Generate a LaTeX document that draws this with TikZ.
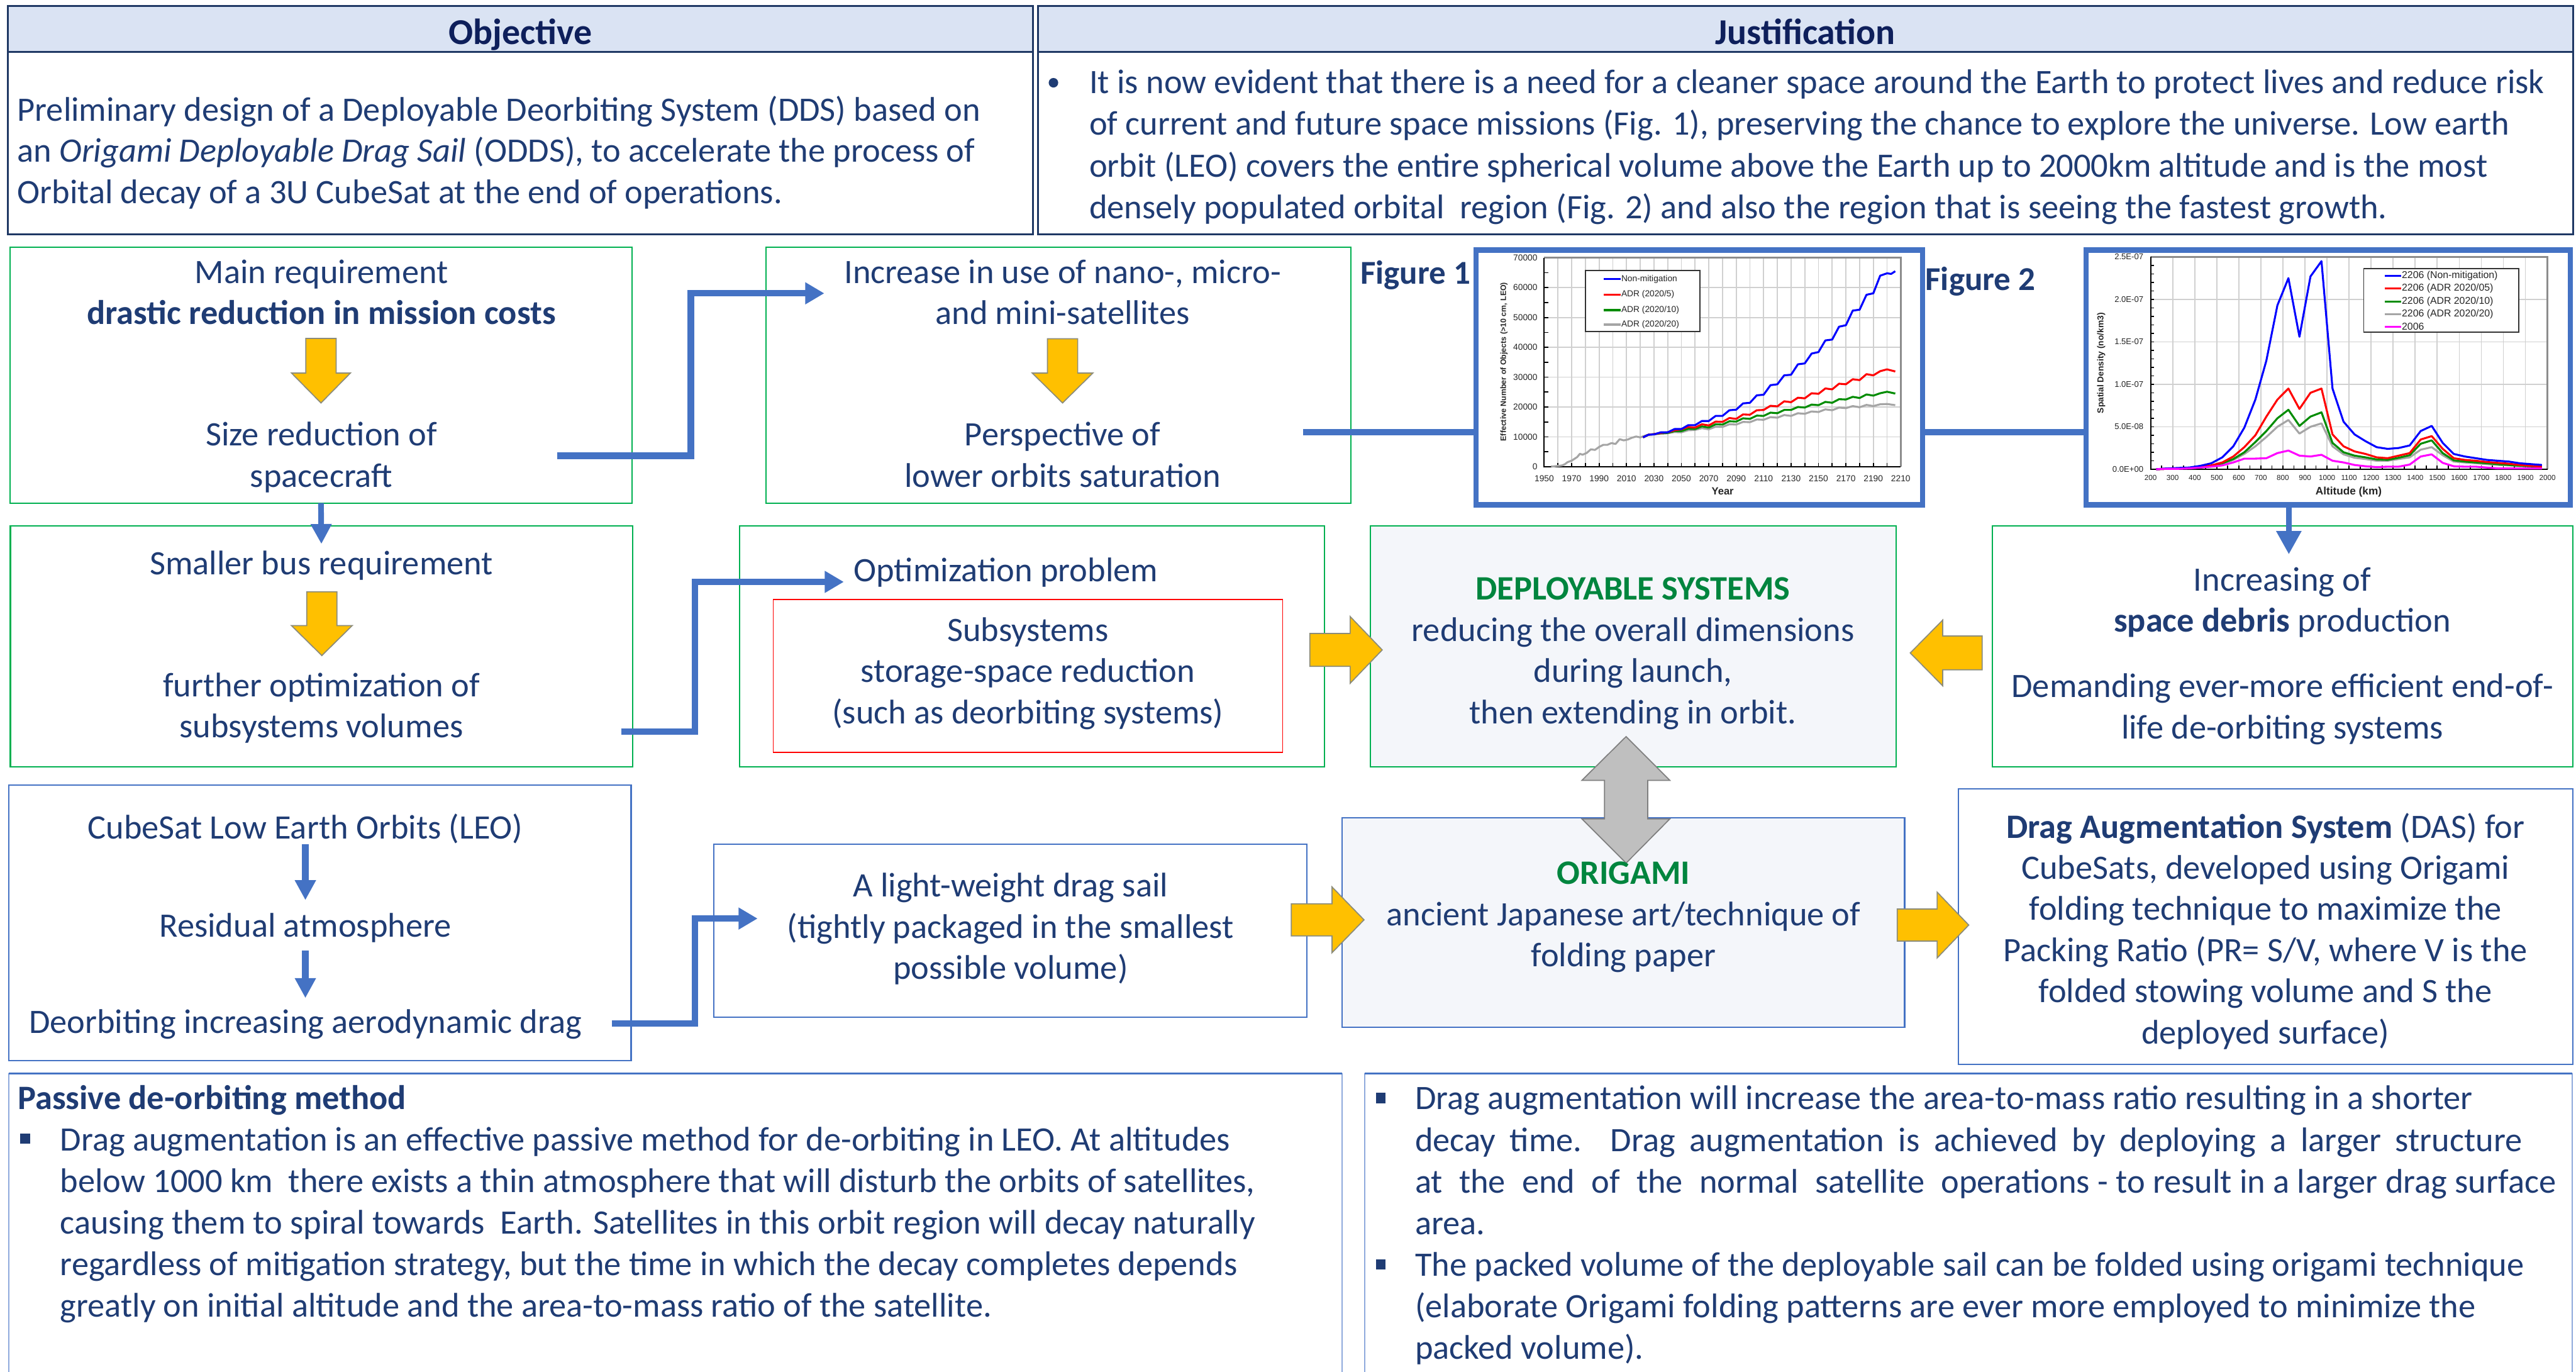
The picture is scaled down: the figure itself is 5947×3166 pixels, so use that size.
\documentclass[tikz,border=0pt]{standalone}
\usepackage{fontspec}
\setmainfont{Carlito}
\newfontfamily\chartfont{Liberation Sans}
\usetikzlibrary{arrows.meta}
\definecolor{navy}{HTML}{1F3C74}
\definecolor{hdrtext}{HTML}{0E1F5B}
\definecolor{hdrline}{HTML}{1F3864}
\definecolor{hdrfill}{HTML}{DAE3F3}
\definecolor{mgreen}{HTML}{00B050}
\definecolor{dgreen}{HTML}{00853E}
\definecolor{mblue}{HTML}{4472C4}
\definecolor{lblue}{HTML}{8FAADC}
\definecolor{myellow}{HTML}{FFC000}
\definecolor{yedge}{HTML}{8C8C7A}
\definecolor{garrfill}{HTML}{BFBFBF}
\definecolor{garredge}{HTML}{7F7F7F}
\definecolor{lfill}{HTML}{F4F6FA}
\definecolor{redbox}{HTML}{FF0000}
\definecolor{gridcol}{HTML}{D0D0D0}
\definecolor{cblue}{RGB}{0,0,255}
\definecolor{cred}{RGB}{255,0,0}
\definecolor{cgreen}{RGB}{0,140,0}
\definecolor{cgray}{RGB}{165,165,165}
\definecolor{cmag}{RGB}{255,0,255}
\newcommand\mtxt{\fontsize{79}{95}\selectfont}
\newcommand\ptxt{\fontsize{79}{96}\selectfont}
\newcommand\ctab[1]{\begin{tabular}[t]{@{}c@{}}#1\end{tabular}}
\newcommand\ltab[1]{\begin{tabular}[t]{@{}l@{}}#1\end{tabular}}
\newcommand\yarrv[6]{\draw[yarr] ({#1-#3},#2) -- ({#1+#3},#2) -- ({#1+#3},#4) -- ({#1+#5},#4) -- (#1,#6) -- ({#1-#5},#4) -- ({#1-#3},#4) -- cycle;}
\newcommand\yarrh[6]{\draw[yarr] (#2,{#1-#3}) -- (#4,{#1-#3}) -- (#4,{#1-#5}) -- (#6,#1) -- (#4,{#1+#5}) -- (#4,{#1+#3}) -- (#2,{#1+#3}) -- cycle;}
\begin{document}
\begin{tikzpicture}[x=1pt,y=-1pt,
  every node/.style={inner sep=0pt,outer sep=0pt},
  gbox/.style={draw=mgreen,line width=3pt,anchor=north west},
  bbox/.style={draw=mblue,line width=3pt,anchor=north west},
  txt/.style={font=\mtxt,text=navy,anchor=base},
  ptx/.style={font=\ptxt,text=navy,anchor=base west},
  conn/.style={draw=mblue,line width=15pt,line join=miter,-{Triangle[width=48pt,length=44pt]}},
  yarr/.style={fill=myellow,draw=yedge,line width=2.5pt,line join=miter},
  garr/.style={fill=garrfill,draw=garredge,line width=2.5pt,line join=miter},
  figframe/.style={draw=mblue,line width=12pt,fill=white,anchor=north west},
  gline/.style={draw=gridcol,line width=2.5pt},
  tickA/.style={font=\chartfont\fontsize{20}{23}\selectfont,text=black!85},
  tickB/.style={font=\chartfont\fontsize{17}{20}\selectfont,text=black!85},
  tickC/.style={font=\chartfont\fontsize{19}{22}\selectfont,text=black!85},
  legA/.style={font=\chartfont\fontsize{20}{23}\selectfont,text=black!85,anchor=west},
  legB/.style={font=\chartfont\fontsize{23}{26}\selectfont,text=black!85,anchor=west},
  curve/.style={line width=4.5pt,line join=round}]
\useasboundingbox (0,0) rectangle (5947,3166);
\fill[white] (0,0) rectangle (5947,3166);

% ---------- header boxes
\node[draw=hdrline,line width=4pt,fill=white,anchor=north west,minimum width=2367pt,minimum height=527pt] (objbox) at (18,14) {};
\node[draw=hdrline,line width=4pt,fill=hdrfill,anchor=north west,minimum width=2367pt,minimum height=106pt] (objhdr) at (18,14) {};
\node[draw=hdrline,line width=4pt,fill=white,anchor=north west,minimum width=3544pt,minimum height=527pt] (jusbox) at (2396,14) {};
\node[draw=hdrline,line width=4pt,fill=hdrfill,anchor=north west,minimum width=3544pt,minimum height=106pt] (jushdr) at (2396,14) {};
\node[font=\fontsize{84}{100}\selectfont\bfseries,text=hdrtext,anchor=base] (objT) at (1201,103) {Objective};
\node[font=\fontsize{84}{100}\selectfont\bfseries,text=hdrtext,anchor=base] (jusT) at (4168,103) {Justification};
\node[txt,anchor=base west] (objX) at (40,279) {\ltab{Preliminary design of a Deployable Deorbiting System (DDS) based on\\an \textit{Origami Deployable Drag Sail} (ODDS), to accelerate the process of\\Orbital decay of a 3U CubeSat at the end of operations.}};
\fill[navy] (2432,191) circle (11);
\node[ptx] (jusX) at (2515,216) {\ltab{It is now evident that there is a need for a cleaner space around the Earth to protect lives and reduce risk\\of current and future space missions (Fig. 1), preserving the chance to explore the universe. Low earth\\orbit (LEO) covers the entire spherical volume above the Earth up to 2000km altitude and is the most\\densely populated orbital\ \ region (Fig. 2) and also the region that is seeing the fastest growth.}};

% ---------- boxes
\node[gbox,minimum width=1436pt,minimum height=590pt] (A) at (23,571) {};
\node[gbox,minimum width=1350pt,minimum height=590pt] (B) at (1768,571) {};
\node[figframe,minimum width=1030pt,minimum height=588pt] (fig1) at (3408,577) {};
\node[figframe,minimum width=1118pt,minimum height=588pt] (fig2) at (4816,577) {};
\node[gbox,minimum width=1437pt,minimum height=556pt] (C) at (24,1214) {};
\node[gbox,minimum width=1351pt,minimum height=556pt] (D) at (1707,1214) {};
\node[draw=redbox,line width=2.5pt,anchor=north west,minimum width=1176pt,minimum height=352pt] (R) at (1785,1384) {};
\node[gbox,fill=lfill,minimum width=1215pt,minimum height=556pt] (E) at (3163,1214) {};
\node[gbox,minimum width=1340pt,minimum height=556pt] (F) at (4599,1214) {};
\node[bbox,minimum width=1437pt,minimum height=636pt] (J) at (20,1812) {};
\node[bbox,minimum width=1369pt,minimum height=400pt] (I) at (1648,1948) {};
\node[bbox,fill=lfill,minimum width=1298pt,minimum height=484pt] (G) at (3099,1887) {};
\node[bbox,minimum width=1418pt,minimum height=636pt] (H) at (4521,1820) {};
\node[draw=lblue,line width=2.5pt,anchor=north west,minimum width=3078pt,minimum height=800pt] (K) at (20,2478) {};
\node[draw=lblue,line width=2.5pt,anchor=north west,minimum width=2787pt,minimum height=800pt] (L) at (3151,2478) {};
\draw[mblue,line width=4pt] (K.north west) -- (K.north east);
\draw[mblue,line width=4pt] (L.north west) -- (L.north east);

% ---------- Figure 1 chart
\begin{scope}[shift={(-2607.5,1077)},xscale=3.1654,yscale=-6.886]
\foreach \yr in {1960,1970,...,2200} \draw[gline] (\yr,0) -- (\yr,70);
\foreach \v in {10,20,...,60} \draw[gline] (1950,\v) -- (2210,\v);
\draw[black!45,line width=4pt] (1950,70) -- (2210,70) -- (2210,0);
\foreach \yr in {1960,1970,...,2200} \draw[black,line width=2.5pt] (\yr,0) -- (\yr,1.3);
\foreach \v in {5,10,...,65} \draw[black,line width=2.5pt] (1950,\v) -- (1952.8,\v);
\draw[black,line width=3pt] (1950,70) -- (1950,0) -- (2210,0);
\foreach \v/\l in {0/0,10/10000,20/20000,30/30000,40/40000,50/50000,60/60000,70/70000}
  \node[tickA,anchor=east] (f1y\v) at (1945,\v) {\l};
\foreach \yr in {1950,1970,...,2210} \node[tickA,anchor=north] (f1x\yr) at (\yr,-2.9) {\yr};
\draw[cgray,curve] plot coordinates {(1955,0) (1959,0.2) (1963,0.4) (1965,0.8) (1967,1.5) (1970,2.0) (1972,2.6) (1974,3.2) (1976,4.3) (1978,4.0) (1981,4.6) (1984,5.8) (1987,5.6) (1990,6.6) (1993,7.3) (1996,7.3) (1999,7.9) (2002,7.6) (2005,9.2) (2008,8.8) (2011,9.1) (2014,9.7) (2017,10.1) (2020,9.8) (2023,10.3) (2026,10.7) (2030,10.8) (2035,11.0) (2040,11.2) (2045,11.6) (2050,11.5) (2055,12.2) (2060,12.3) (2065,12.9) (2070,12.5) (2075,13.4) (2080,13.3) (2085,14.2) (2090,14.1) (2095,15.0) (2100,14.9) (2105,15.8) (2110,15.7) (2115,16.6) (2120,16.4) (2125,17.3) (2130,17.0) (2135,17.9) (2140,17.7) (2145,18.5) (2150,18.3) (2155,19.2) (2160,18.9) (2165,19.8) (2170,19.6) (2175,20.3) (2180,19.9) (2185,20.7) (2190,20.3) (2195,20.9) (2200,21.0) (2206,20.6)};
\draw[cgreen,curve] plot coordinates {(2022,9.8) (2026,10.7) (2030,10.9) (2035,11.2) (2040,11.3) (2045,11.9) (2050,11.9) (2055,12.7) (2060,12.6) (2065,13.5) (2070,13.1) (2075,14.2) (2080,14.1) (2085,15.2) (2090,15.1) (2095,16.2) (2100,16.0) (2105,17.1) (2110,17.0) (2115,18.1) (2120,17.9) (2125,19.0) (2130,19.0) (2135,20.0) (2140,19.8) (2145,20.8) (2150,20.6) (2155,21.7) (2160,21.4) (2165,22.6) (2170,22.5) (2175,23.4) (2180,23.0) (2185,24.2) (2190,23.8) (2195,24.6) (2200,25.1) (2206,24.5)};
\draw[cred,curve] plot coordinates {(2022,9.8) (2026,10.7) (2030,10.9) (2035,11.3) (2040,11.5) (2045,12.2) (2050,12.5) (2055,13.3) (2060,13.1) (2065,14.2) (2070,13.8) (2075,15.1) (2080,15.0) (2085,16.3) (2090,16.0) (2095,17.5) (2100,17.4) (2105,18.9) (2110,19.0) (2115,20.4) (2120,20.2) (2125,21.9) (2130,21.6) (2135,23.1) (2140,22.9) (2145,24.6) (2150,24.4) (2155,26.2) (2160,25.9) (2165,27.8) (2170,27.6) (2175,29.3) (2180,29.0) (2185,31.0) (2190,30.6) (2195,32.0) (2200,32.6) (2206,31.9)};
\draw[cblue,curve] plot coordinates {(2022,9.8) (2026,10.7) (2030,10.8) (2035,11.5) (2040,11.5) (2045,12.6) (2050,12.6) (2055,13.9) (2060,13.9) (2065,15.3) (2070,15.3) (2075,17.0) (2080,17.0) (2085,18.9) (2090,19.1) (2095,21.2) (2100,21.4) (2105,23.9) (2110,24.1) (2115,27.3) (2120,27.6) (2125,30.6) (2130,30.8) (2135,34.3) (2140,34.6) (2145,37.9) (2150,38.4) (2155,42.3) (2160,42.6) (2165,46.9) (2170,47.4) (2175,52.3) (2180,52.6) (2185,57.6) (2190,58.1) (2195,64.0) (2200,64.8) (2203,64.6) (2206,65.5)};
\end{scope}
\node[font=\chartfont\bfseries\fontsize{24}{27}\selectfont,text=black!85] (f1year) at (3977,1134) {Year};
\node[font=\chartfont\bfseries\fontsize{18}{21}\selectfont,text=black!85,rotate=90] (f1ylab) at (3472,835) {Effective Number of Objects (>10 cm, LEO)};
\node[draw=black!80,line width=2.5pt,fill=white,anchor=north west,minimum width=264pt,minimum height=141pt] (leg1) at (3660,624) {};
\draw[cblue,line width=5pt] (3703,644) -- (3741,644);
\draw[cred,line width=5pt] (3703,680) -- (3741,680);
\draw[cgreen,line width=5pt] (3703,716) -- (3741,716);
\draw[cgray,line width=5pt] (3703,749) -- (3741,749);
\node[legA] (l1a) at (3743,644) {Non-mitigation};
\node[legA] (l1b) at (3743,680) {ADR (2020/5)};
\node[legA] (l1c) at (3743,716) {ADR (2020/10)};
\node[legA] (l1d) at (3743,749) {ADR (2020/20)};

% ---------- Figure 2 chart
\begin{scope}[shift={(4863.2,1083)},xscale=0.5089,yscale=-196]
\foreach \a in {300,400,...,1900} \draw[gline] (\a,0) -- (\a,2.5);
\foreach \v in {0.5,1.0,1.5,2.0} \draw[gline] (200,\v) -- (2000,\v);
\draw[black!45,line width=4pt] (200,2.5) -- (2000,2.5) -- (2000,0);
\foreach \a in {250,300,...,1950} \draw[black,line width=2.5pt] (\a,0) -- (\a,0.045);
\foreach \v in {0.1,0.2,...,2.45} \draw[black,line width=2.5pt] (200,\v) -- (216,\v);
\draw[black,line width=3pt] (200,2.5) -- (200,0) -- (2000,0);
\foreach \v/\l/\n in {0/0.0E+00/a,0.5/5.0E-08/b,1/1.0E-07/c,1.5/1.5E-07/d,2/2.0E-07/e,2.5/2.5E-07/f}
  \node[tickC,anchor=east] (f2y\n) at (167,\v) {\l};
\foreach \a in {200,300,...,2000} \node[tickB,anchor=north] (f2x\a) at (\a,-0.07) {\a};
\draw[cgray,curve] plot coordinates {(225,0) (275,0.005) (325,0.01) (375,0.015) (425,0.02) (475,0.035) (525,0.06) (575,0.11) (625,0.18) (675,0.27) (725,0.38) (775,0.50) (825,0.58) (875,0.42) (925,0.50) (975,0.54) (1025,0.27) (1075,0.175) (1125,0.135) (1175,0.12) (1225,0.10) (1275,0.10) (1325,0.12) (1375,0.14) (1425,0.23) (1475,0.26) (1525,0.165) (1575,0.09) (1625,0.08) (1675,0.07) (1725,0.06) (1775,0.05) (1825,0.045) (1875,0.04) (1925,0.035) (1975,0.03)};
\draw[cgreen,curve] plot coordinates {(225,0) (275,0.005) (325,0.01) (375,0.015) (425,0.02) (475,0.04) (525,0.07) (575,0.12) (625,0.20) (675,0.32) (725,0.45) (775,0.60) (825,0.70) (875,0.51) (925,0.62) (975,0.67) (1025,0.31) (1075,0.20) (1125,0.16) (1175,0.14) (1225,0.115) (1275,0.11) (1325,0.135) (1375,0.165) (1425,0.30) (1475,0.34) (1525,0.19) (1575,0.105) (1625,0.09) (1675,0.08) (1725,0.07) (1775,0.06) (1825,0.05) (1875,0.04) (1925,0.035) (1975,0.03)};
\draw[cred,curve] plot coordinates {(225,0) (275,0.005) (325,0.01) (375,0.015) (425,0.025) (475,0.045) (525,0.08) (575,0.15) (625,0.26) (675,0.40) (725,0.62) (775,0.82) (825,0.95) (875,0.71) (925,0.90) (975,0.95) (1025,0.41) (1075,0.27) (1125,0.21) (1175,0.18) (1225,0.14) (1275,0.13) (1325,0.16) (1375,0.19) (1425,0.35) (1475,0.39) (1525,0.24) (1575,0.13) (1625,0.11) (1675,0.10) (1725,0.085) (1775,0.075) (1825,0.065) (1875,0.05) (1925,0.04) (1975,0.03)};
\draw[cblue,curve] plot coordinates {(225,0) (275,0.01) (325,0.015) (375,0.02) (425,0.04) (475,0.07) (525,0.14) (575,0.27) (625,0.49) (675,0.82) (725,1.28) (775,1.93) (825,2.25) (875,1.56) (925,2.27) (975,2.45) (1025,0.95) (1075,0.56) (1125,0.41) (1175,0.33) (1225,0.26) (1275,0.24) (1325,0.25) (1375,0.28) (1425,0.45) (1475,0.51) (1525,0.31) (1575,0.18) (1625,0.15) (1675,0.13) (1725,0.11) (1775,0.10) (1825,0.09) (1875,0.07) (1925,0.06) (1975,0.05)};
\draw[cmag,curve] plot coordinates {(225,0) (275,0.005) (325,0.005) (375,0.01) (425,0.02) (475,0.03) (525,0.045) (575,0.08) (625,0.125) (675,0.125) (725,0.13) (775,0.19) (825,0.22) (875,0.16) (925,0.15) (975,0.17) (1025,0.10) (1075,0.08) (1125,0.05) (1175,0.035) (1225,0.025) (1275,0.03) (1325,0.03) (1375,0.055) (1425,0.15) (1475,0.175) (1525,0.075) (1575,0.035) (1625,0.03) (1675,0.03) (1725,0.02) (1775,0.01) (1825,0.01) (1875,0.01) (1925,0.01) (1975,0.01)};
\end{scope}
\node[font=\chartfont\bfseries\fontsize{25}{28}\selectfont,text=black!85] (f2alt) at (5422,1136) {Altitude (km)};
\node[font=\chartfont\bfseries\fontsize{20}{23}\selectfont,text=black!85,rotate=90] (f2ylab) at (4851,838) {Spatial Density (no/km3)};
\node[draw=black!80,line width=2.5pt,fill=white,anchor=north west,minimum width=358pt,minimum height=147pt] (leg2) at (5457,620) {};
\draw[cblue,line width=5pt] (5505,637) -- (5543,637);
\draw[cred,line width=5pt] (5505,666) -- (5543,666);
\draw[cgreen,line width=5pt] (5505,696) -- (5543,696);
\draw[cgray,line width=5pt] (5505,725) -- (5543,725);
\draw[cmag,line width=5pt] (5505,754) -- (5543,754);
\node[legB] (l2a) at (5545,637) {2206 (Non-mitigation)};
\node[legB] (l2b) at (5545,666) {2206 (ADR 2020/05)};
\node[legB] (l2c) at (5545,696) {2206 (ADR 2020/10)};
\node[legB] (l2d) at (5545,725) {2206 (ADR 2020/20)};
\node[legB] (l2e) at (5545,754) {2006};
\node[font=\fontsize{77}{90}\selectfont\bfseries,text=navy,anchor=base] (fig1L) at (3268,656) {Figure 1};
\node[font=\fontsize{77}{90}\selectfont\bfseries,text=navy,anchor=base] (fig2L) at (4572,670) {Figure 2};

% ---------- block arrows
\yarrv{741}{781}{35}{861}{68}{930}
\yarrv{2453}{782}{35}{861}{70}{930}
\yarrv{743}{1366}{35}{1444}{70}{1513}
\yarrh{1500}{3024}{38}{3117}{77}{3191}
\yarrh{1507}{4576}{39}{4485}{76}{4410}
\yarrh{2123}{2981}{37}{3075}{76}{3149}
\yarrh{2135}{4380}{37}{4472}{76}{4545}
\draw[garr] (3754,1700) -- (3855,1801) -- (3804,1801) -- (3804,1890) -- (3855,1890) -- (3754,1992) -- (3652,1890) -- (3704,1890) -- (3704,1801) -- (3652,1801) -- cycle;

% ---------- box texts
\node[txt] (A1) at (742,654) {\ctab{Main requirement\\\textbf{drastic reduction in mission costs}}};
\node[txt] (A2) at (742,1029) {\ctab{Size reduction of\\spacecraft}};
\node[txt] (B1) at (2453,654) {\ctab{Increase in use of nano-, micro-\\and mini-satellites}};
\node[txt] (B2) at (2453,1029) {\ctab{Perspective of\\lower orbits saturation}};
\node[txt] (C1) at (742,1326) {\ctab{Smaller bus requirement}};
\node[txt] (C2) at (742,1608) {\ctab{further optimization of\\subsystems volumes}};
\node[txt,anchor=base west] (D1) at (1971,1342) {\ctab{Optimization problem}};
\node[txt] (Rt) at (2373,1480) {\ctab{Subsystems\\storage-space reduction\\(such as deorbiting systems)}};
\node[txt] (Et) at (3770,1385) {\ctab{\textcolor{dgreen}{\textbf{DEPLOYABLE SYSTEMS}}\\reducing the overall dimensions\\during launch,\\then extending in orbit.}};
\node[txt] (F1) at (5269,1364) {\ctab{Increasing of\\\textbf{space debris} production}};
\node[txt] (F2) at (5269,1610) {\ctab{Demanding ever-more efficient end-of-\\life de-orbiting systems}};
\node[txt] (Gt) at (3748,2041) {\ctab{\textcolor{dgreen}{\textbf{ORIGAMI}}\\ancient Japanese art/technique of\\folding paper}};
\node[txt] (Ht) at (5230,1934) {\ctab{\textbf{Drag Augmentation System} (DAS) for\\CubeSats, developed using Origami\\folding technique to maximize the\\Packing Ratio (PR= S/V, where V is the\\folded stowing volume and S the\\deployed surface)}};
\node[txt] (It) at (2333,2070) {\ctab{A light-weight drag sail\\(tightly packaged in the smallest\\possible volume)}};
\node[txt] (J1) at (705,1936) {\ctab{CubeSat Low Earth Orbits (LEO)}};
\node[txt] (J2) at (705,2162) {\ctab{Residual atmosphere}};
\node[txt] (J3) at (705,2385) {\ctab{Deorbiting increasing aerodynamic drag}};

% ---------- bottom texts
\node[font=\ptxt\bfseries,text=navy,anchor=base west] (Ktitle) at (41,2561) {Passive de-orbiting method};
\fill[navy] (46,2617) rectangle (69,2640);
\node[ptx] (Kx) at (139,2656) {\ltab{Drag augmentation is an effective passive method for de-orbiting in LEO. At altitudes\\below 1000 km\ \ there exists a thin atmosphere that will disturb the orbits of satellites,\\causing them to spiral towards\ \ Earth. Satellites in this orbit region will decay naturally\\regardless of mitigation strategy, but the time in which the decay completes depends\\greatly on initial altitude and the area-to-mass ratio of the satellite.}};
\fill[navy] (3176,2522) rectangle (3198,2546);
\fill[navy] (3176,2906) rectangle (3198,2930);
\node[ptx] (Lx) at (3267,2561) {\ltab{Drag augmentation will increase the area-to-mass ratio resulting in a shorter\\\makebox[2556pt][s]{decay time.\ \ Drag augmentation is achieved by deploying a larger structure}\\\makebox[1558pt][s]{at the end of the normal satellite operations} - to result in a larger drag surface\\area.\\The packed volume of the deployable sail can be folded using origami technique\\(elaborate Origami folding patterns are ever more employed to minimize the\\packed volume).}};

% ---------- connectors
\coordinate (a2out) at (1286,1052);
\coordinate (k1) at (1595,1052);
\coordinate (b1in) at (1903,677);
\draw[conn] (a2out) -- (k1) |- (b1in);
\coordinate (c2out) at (1434,1689);
\coordinate (k2) at (1604,1689);
\coordinate (d1in) at (1948,1343);
\draw[conn] (c2out) -- (k2) |- (d1in);
\coordinate (j3out) at (1413,2362);
\coordinate (k3) at (1604,2362);
\coordinate (iin) at (1749,2120);
\draw[conn] (j3out) -- (k3) |- (iin);
\coordinate (bout) at (3008,997);
\draw[mblue,line width=15pt] (bout) -- (bout -| fig1.west);
\draw[mblue,line width=15pt] (fig1.east |- bout) -- (fig2.west |- bout);
\draw[draw=mblue,line width=14pt,-{Triangle[width=55pt,length=54pt]},shorten >=18pt] ([xshift=15pt]F1.north |- fig2.south) -- ([xshift=15pt]F1.north);
\draw[draw=mblue,line width=13pt,-{Triangle[width=46pt,length=46pt]},shorten >=4pt] (A.south) -- (C1.north);
\draw[draw=mblue,line width=16pt,-{Triangle[width=46pt,length=46pt]},shorten <=-16pt,shorten >=18pt] (J1.south) -- (J2.north);
\draw[draw=mblue,line width=16pt,-{Triangle[width=46pt,length=46pt]},shorten <=4pt,shorten >=15pt] (J2.south) -- (J3.north);
\end{tikzpicture}
\end{document}
